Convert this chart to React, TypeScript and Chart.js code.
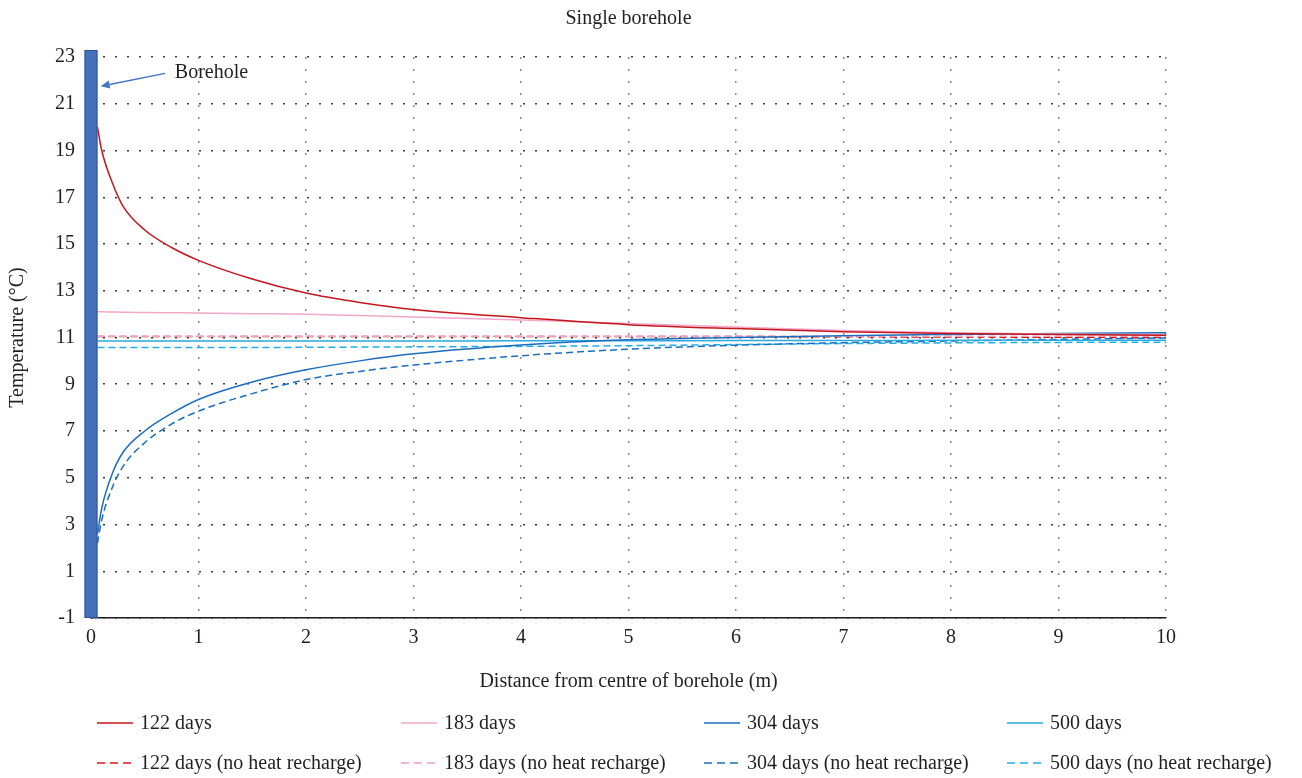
import React, { useEffect, useRef } from "react";
import { Chart, registerables } from "chart.js";

Chart.register(...registerables);

// ---- Data ----
const distance = [0.06, 0.1, 0.2, 0.3, 0.5, 0.75, 1, 1.5, 2, 2.5, 3, 4, 5, 6, 7, 8, 9, 10];
const temp122 = [20.0, 19.0, 17.6, 16.6, 15.6, 14.85, 14.3, 13.5, 12.9, 12.5, 12.2, 11.85, 11.55, 11.38, 11.25, 11.17, 11.13, 11.1];
const temp183 = [12.1, 12.1, 12.09, 12.08, 12.07, 12.06, 12.05, 12.02, 11.99, 11.94, 11.88, 11.75, 11.6, 11.45, 11.3, 11.2, 11.15, 11.12];
const temp304 = [2.6, 3.7, 5.2, 6.1, 7.0, 7.75, 8.35, 9.1, 9.62, 10.0, 10.3, 10.68, 10.9, 11.0, 11.08, 11.13, 11.17, 11.2];
const temp500 = [10.85, 10.85, 10.85, 10.85, 10.85, 10.85, 10.85, 10.85, 10.85, 10.85, 10.85, 10.86, 10.86, 10.87, 10.87, 10.88, 10.88, 10.88];
const temp122nh = [11.04, 11.04, 11.04, 11.04, 11.04, 11.04, 11.04, 11.04, 11.04, 11.04, 11.04, 11.04, 11.04, 11.04, 11.03, 11.02, 11.01, 11.0];
const temp183nh = [11.05, 11.05, 11.05, 11.05, 11.05, 11.05, 11.05, 11.05, 11.05, 11.05, 11.05, 11.05, 11.05, 11.05, 11.05, 11.05, 11.05, 11.05];
const temp304nh = [2.2, 3.2, 4.6, 5.5, 6.5, 7.3, 7.85, 8.6, 9.2, 9.55, 9.82, 10.22, 10.5, 10.67, 10.78, 10.85, 10.92, 10.98];
const temp500nh = [10.57, 10.57, 10.57, 10.57, 10.57, 10.57, 10.57, 10.57, 10.58, 10.59, 10.6, 10.62, 10.65, 10.7, 10.74, 10.77, 10.79, 10.8];

const seriesLabels = [
  "122 days", "183 days", "304 days", "500 days",
  "122 days (no heat recharge)", "183 days (no heat recharge)",
  "304 days (no heat recharge)", "500 days (no heat recharge)",
];
const seriesValues = [temp122, temp183, temp304, temp500, temp122nh, temp183nh, temp304nh, temp500nh];
const seriesColors = ["#C4161C", "#F2A7CB", "#1C6CBF", "#2AA8E0", "#E0161E", "#EBA3C1", "#1C6CBF", "#1EAEEA"];
const seriesDashed = [false, false, false, false, true, true, true, true];
const seriesOrder = [0, 0, 0, 0, 2, 1, 0, 0];

const xTicks = [0, 1, 2, 3, 4, 5, 6, 7, 8, 9, 10];
const yTicks = [-1, 1, 3, 5, 7, 9, 11, 13, 15, 17, 19, 21, 23];

// borehole annotation (data units)
const boreholeRadius = 0.06;
const boreholeTop = 23.3;
const arrowTail = { x: 0.69, y: 22.3 };
const arrowTip = { x: 0.09, y: 21.75 };
const boreholeLabel = { x: 0.78, y: 22.32, text: "Borehole" };

const FONT = "'Liberation Serif', 'Times New Roman', serif";
const TEXT = "#231f20";
const FS = 20;

const boreholePlugin = {
  id: "borehole",
  afterDatasetsDraw(chart: any) {
    const { ctx, scales } = chart;
    const x = scales.x;
    const y = scales.y;
    const l = x.getPixelForValue(-boreholeRadius);
    const r = x.getPixelForValue(boreholeRadius);
    const t = y.getPixelForValue(boreholeTop);
    const b = y.getPixelForValue(yTicks[0]);
    ctx.save();
    ctx.fillStyle = "#4470BA";
    ctx.fillRect(l, t, r - l, b - t);
    ctx.strokeStyle = "#2F5597";
    ctx.lineWidth = 1;
    ctx.strokeRect(l + 0.5, t + 0.5, r - l - 1, b - t - 1);

    // arrow
    const x1 = x.getPixelForValue(arrowTail.x), y1 = y.getPixelForValue(arrowTail.y);
    const x2 = x.getPixelForValue(arrowTip.x), y2 = y.getPixelForValue(arrowTip.y);
    ctx.strokeStyle = "#4472C4";
    ctx.fillStyle = "#4472C4";
    ctx.lineWidth = 1.5;
    const ang = Math.atan2(y2 - y1, x2 - x1);
    const hl = 9, hw = 4;
    const bx = x2 - hl * Math.cos(ang), by = y2 - hl * Math.sin(ang);
    ctx.beginPath();
    ctx.moveTo(x1, y1);
    ctx.lineTo(bx, by);
    ctx.stroke();
    ctx.beginPath();
    ctx.moveTo(x2, y2);
    ctx.lineTo(bx + hw * Math.sin(ang), by - hw * Math.cos(ang));
    ctx.lineTo(bx - hw * Math.sin(ang), by + hw * Math.cos(ang));
    ctx.closePath();
    ctx.fill();

    ctx.fillStyle = TEXT;
    ctx.font = `${FS}px ${FONT}`;
    ctx.textAlign = "left";
    ctx.textBaseline = "middle";
    ctx.fillText(boreholeLabel.text, x.getPixelForValue(boreholeLabel.x), y.getPixelForValue(boreholeLabel.y));
    ctx.restore();
  },
};

function LegendSample({ color, dashed }: { color: string; dashed: boolean }) {
  return (
    <svg width={36} height={4} style={{ display: "block" }}>
      <line x1={0} y1={2} x2={36} y2={2} stroke={color} strokeWidth={1.6} strokeDasharray={dashed ? "8 5" : undefined} />
    </svg>
  );
}

export default function App() {
  const canvasRef = useRef<HTMLCanvasElement | null>(null);

  useEffect(() => {
    const canvas = canvasRef.current;
    if (!canvas) return;
    const datasets = seriesLabels.map((label, i) => ({
      label,
      data: distance.map((d, j) => ({ x: d, y: seriesValues[i][j] })),
      borderColor: seriesColors[i],
      backgroundColor: seriesColors[i],
      borderWidth: 1.5,
      borderDash: seriesDashed[i] ? [7, 4] : [],
      pointRadius: 0,
      fill: false,
      order: seriesOrder[i],
      cubicInterpolationMode: "monotone" as const,
    }));

    const chart = new Chart(canvas, {
      type: "line",
      data: { datasets },
      options: {
        animation: false,
        responsive: false,
        devicePixelRatio: 1,
        layout: { padding: { left: 0, right: 136, top: 0, bottom: 84 } },
        plugins: {
          legend: { display: false },
          tooltip: { enabled: false },
          title: {
            display: true,
            text: "Single borehole",
            fullSize: false,
            color: TEXT,
            font: { family: FONT, size: FS, weight: "normal" },
            padding: { top: 7, bottom: 26 },
          },
        },
        scales: {
          x: {
            type: "linear",
            min: xTicks[0],
            max: xTicks[xTicks.length - 1],
            afterBuildTicks: (scale: any) => {
              scale.ticks = xTicks.map((v) => ({ value: v }));
            },
            afterFit: (scale: any) => {
              scale.height = 76;
            },
            ticks: {
              color: TEXT,
              font: { family: FONT, size: FS },
              padding: 8,
              maxRotation: 0,
              autoSkip: false,
            },
            grid: { color: "#8a8a8a", lineWidth: 1.5, drawTicks: false },
            border: { display: true, color: "#1a1a1a", width: 1.5, dash: [2, 10] },
            title: {
              display: true,
              text: "Distance from centre of borehole (m)",
              color: TEXT,
              font: { family: FONT, size: FS },
              padding: { top: 0, bottom: 0 },
            },
          },
          y: {
            type: "linear",
            min: yTicks[0],
            max: yTicks[yTicks.length - 1],
            afterBuildTicks: (scale: any) => {
              scale.ticks = yTicks.map((v) => ({ value: v }));
            },
            afterFit: (scale: any) => {
              scale.width = 91;
            },
            ticks: {
              color: TEXT,
              font: { family: FONT, size: FS },
              padding: 16,
              autoSkip: false,
            },
            grid: { color: "#3a3a3a", lineWidth: 1.5, drawTicks: false },
            border: { display: false, dash: [2, 10] },
            title: {
              display: true,
              text: "Temperature (°C)",
              color: TEXT,
              font: { family: FONT, size: FS },
              padding: { top: 6, bottom: 0 },
            },
          },
        },
      },
      plugins: [boreholePlugin],
    });
    return () => chart.destroy();
  }, []);

  const colLeft = [97, 401, 704, 1007];
  const rowTop = [711, 751];

  return (
    <div style={{ position: "fixed", left: 0, top: 0, width: 1302, height: 778, background: "#fff" }}>
      <canvas ref={canvasRef} width={1302} height={778} style={{ position: "absolute", left: 0, top: 0 }} />
      {seriesLabels.map((label, i) => (
        <div
          key={label}
          style={{
            position: "absolute",
            left: colLeft[i % 4],
            top: rowTop[Math.floor(i / 4)],
            height: 23,
            display: "flex",
            alignItems: "center",
            gap: 7,
            fontFamily: FONT,
            fontSize: FS,
            color: TEXT,
            whiteSpace: "nowrap",
          }}
        >
          <LegendSample color={seriesColors[i]} dashed={seriesDashed[i]} />
          <span>{label}</span>
        </div>
      ))}
    </div>
  );
}
